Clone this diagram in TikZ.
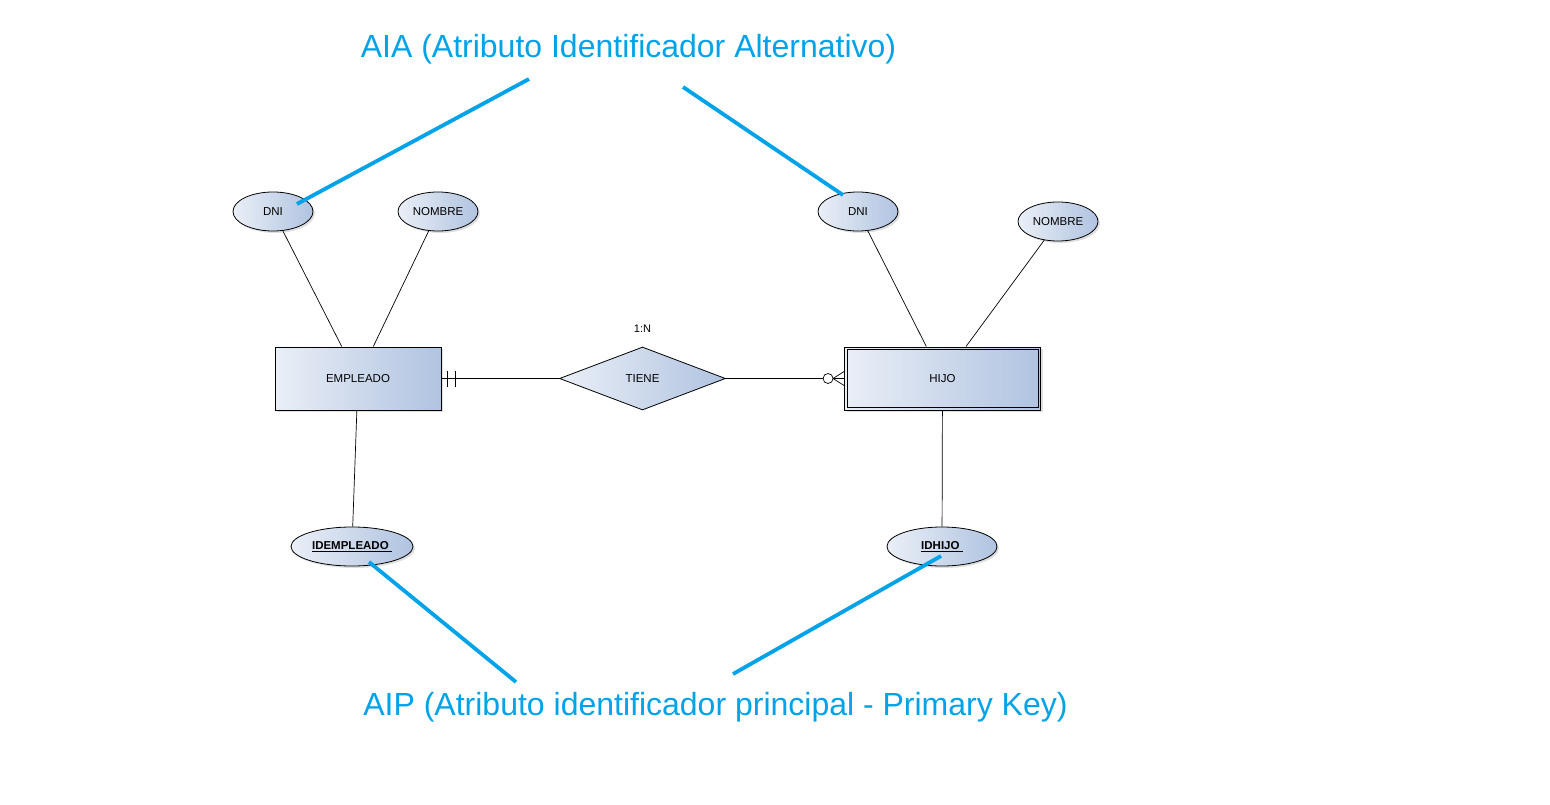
\documentclass[tikz,border=0pt]{standalone}
\usepackage{fontspec}
\setmainfont{Liberation Sans}
\usetikzlibrary{shapes.geometric,shadows}
\definecolor{gradL}{RGB}{234,239,247}
\definecolor{gradR}{RGB}{176,195,224}
\definecolor{noteblue}{RGB}{0,162,232}
\tikzset{
  ent/.style={rectangle, draw=black, line width=0.9pt, left color=gradL, right color=gradR,
    minimum width=166pt, minimum height=63pt, inner sep=0pt, font=\fontsize{11.5}{13}\selectfont,
    drop shadow={shadow xshift=2pt, shadow yshift=-2pt, opacity=0.25}},
  attr/.style={ellipse, draw=black, line width=0.8pt, left color=gradL, right color=gradR,
    minimum width=80pt, minimum height=39pt, inner sep=0pt, font=\fontsize{11.5}{13}\selectfont,
    drop shadow={shadow xshift=2pt, shadow yshift=-2pt, opacity=0.25}},
  rel/.style={diamond, draw=black, line width=0.8pt, left color=gradL, right color=gradR,
    minimum width=166pt, minimum height=63pt, inner sep=0pt, aspect=2.6, font=\fontsize{11.5}{13}\selectfont},
  link/.style={draw=black, line width=0.7pt},
  note/.style={draw=noteblue, line width=3.8pt},
  notetext/.style={text=noteblue, font=\fontsize{32}{38}\selectfont, inner sep=0pt}
}
\begin{document}
\begin{tikzpicture}[x=1pt,y=-1pt]
\useasboundingbox (0,0) rectangle (1550,805);
% entities
\node[ent] (emp) at (358,378.5) {EMPLEADO};
\node[ent, minimum width=196pt] (hijo) at (942.5,378.5) {HIJO};
\draw[black, line width=0.8pt] ([shift={(3pt,-3pt)}]hijo.north west) rectangle ([shift={(-3pt,3pt)}]hijo.south east);
% relationship
\node[rel, minimum width=166pt, minimum height=63pt] (tiene) at (642.5,378.5) {TIENE};
\node[font=\fontsize{11}{12}\selectfont] (card) at (642.5,328.5) {1:N};
% attributes
\node[attr] (dniE) at (273,211.5) {DNI};
\node[attr] (nomE) at (438,211.5) {NOMBRE};
\node[attr, minimum width=122pt] (idE) at (352,546.5) {\textbf{\underline{IDEMPLEADO\ }}};
\node[attr] (dniH) at (858,211.5) {DNI};
\node[attr] (nomH) at (1058,221.5) {NOMBRE};
\node[attr, minimum width=110pt] (idH) at (942,546.5) {\textbf{\underline{IDHIJO\ }}};
% attribute links
\draw[link] (dniE) -- (emp);
\draw[link] (nomE) -- (emp);
\draw[link] (idE) -- (emp);
\draw[link] (dniH) -- (hijo);
\draw[link] (nomH) -- (hijo);
\draw[link] (idH) -- (hijo);
% relationship links
\draw[link] (emp.east) -- (tiene.west);
\draw[link] ([xshift=6pt,yshift=8pt]emp.east) -- ([xshift=6pt,yshift=-8pt]emp.east);
\draw[link] ([xshift=14pt,yshift=8pt]emp.east) -- ([xshift=14pt,yshift=-8pt]emp.east);
\coordinate (circ) at ([xshift=-16pt]hijo.west);
\draw[link] (tiene.east) -- ([xshift=-5pt]circ);
\draw[link, fill=white] (circ) circle[radius=5pt];
\draw[link] ([xshift=5pt]circ) -- (hijo.west);
\draw[link] ([xshift=5pt]circ) -- ([yshift=7pt]hijo.west);
\draw[link] ([xshift=5pt]circ) -- ([yshift=-7pt]hijo.west);
% notes
\node[notetext] (aia) at (628.5,49) {AIA (Atributo Identificador Alternativo)};
\node[notetext] (aip) at (715.5,707) {AIP (Atributo identificador principal - Primary Key)};
\coordinate (n1a) at (529,79);
\coordinate (n1b) at (297,204);
\coordinate (n2a) at (683,87);
\coordinate (n2b) at (843,195);
\coordinate (n3a) at (516,682);
\coordinate (n3b) at (369,562);
\coordinate (n4a) at (733,674);
\coordinate (n4b) at (941,556);
\draw[note] (n1a) -- (n1b);
\draw[note] (n2a) -- (n2b);
\draw[note] (n3a) -- (n3b);
\draw[note] (n4a) -- (n4b);
\end{tikzpicture}
\end{document}
